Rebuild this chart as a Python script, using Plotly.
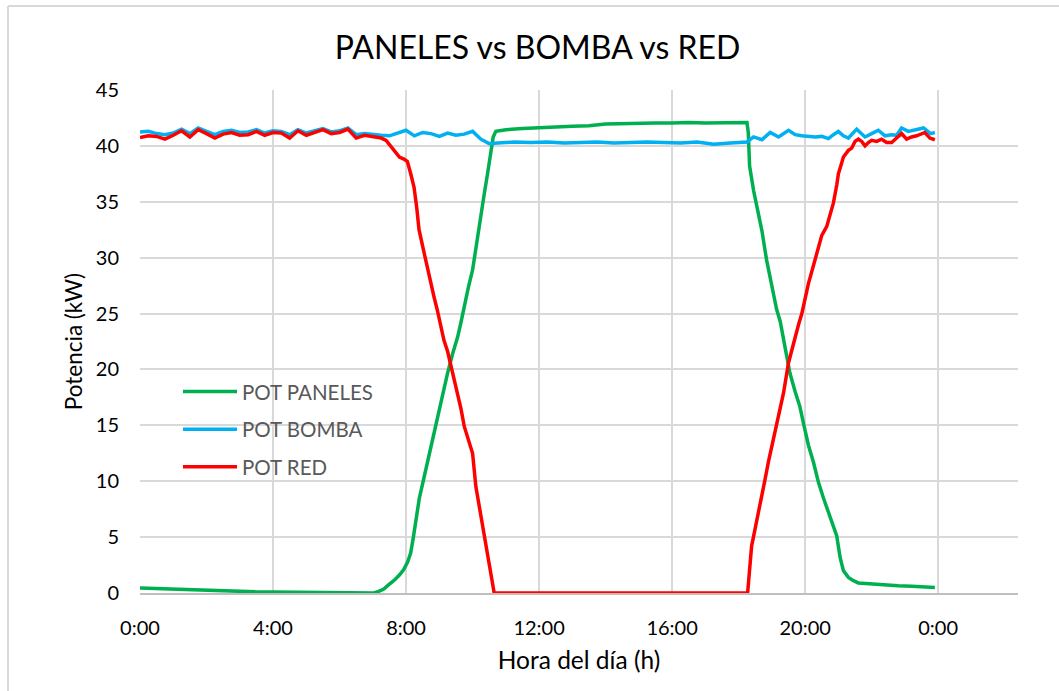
import plotly.graph_objects as go

# ---------------- data (hours of day, kW) ----------------
tick_vals = [0, 4, 8, 12, 16, 20, 24]
tick_text = ["0:00", "4:00", "8:00", "12:00", "16:00", "20:00", "0:00"]

t_paneles = [0, 0.5, 1.0, 1.5, 2.0, 2.5, 3.0, 3.5, 4.0, 4.5, 5.0, 5.5, 6.0, 6.5,
             6.85, 7.03, 7.18, 7.33, 7.48, 7.63, 7.8, 7.93, 8.05, 8.14,
             8.22, 8.29, 8.4, 8.53, 8.68, 8.83, 9.0, 9.12, 9.25, 9.4,
             9.55, 9.65, 9.74, 9.87, 10.0, 10.1, 10.22, 10.34, 10.45, 10.55,
             10.62, 10.7, 10.85, 11.0, 11.5, 12.0, 12.5, 13.0, 13.5, 14.0,
             14.5, 15.0, 15.5, 16.0, 16.5, 17.0, 17.5, 18.0, 18.25, 18.29,
             18.33, 18.45, 18.59, 18.7, 18.84, 19.0, 19.14, 19.25, 19.39, 19.54,
             19.7, 19.84, 19.97, 20.1, 20.25, 20.4, 20.55, 20.7, 20.83, 20.95,
             21.05, 21.15, 21.3, 21.45, 21.6, 22.0, 22.4, 22.8, 23.2, 23.6,
             23.9]
pot_paneles = [0.45, 0.4, 0.35, 0.3, 0.2, 0.15, 0.12, 0.1, 0.08, 0.07, 0.06, 0.05, 0.05, 0.06,
               0.05, 0.0, 0.15, 0.35, 0.75, 1.1, 1.6, 2.1, 2.8, 3.6,
               5.0, 6.6, 8.5, 10.2, 12.2, 14.0, 16.2, 18.0, 19.7, 21.4,
               22.9, 24.2, 25.6, 27.3, 28.9, 31.0, 33.3, 35.5, 37.5, 39.4,
               40.8, 41.3, 41.4, 41.45, 41.55, 41.65, 41.7, 41.75, 41.8, 41.95,
               42.0, 42.0, 42.05, 42.05, 42.1, 42.05, 42.1, 42.1, 42.1, 41.2,
               38.2, 36.0, 34.0, 32.4, 29.8, 27.6, 25.4, 24.3, 22.1, 19.7,
               18.0, 16.7, 14.9, 13.2, 11.7, 9.9, 8.5, 7.2, 6.2, 5.1,
               3.2, 2.0, 1.4, 1.1, 0.9, 0.8, 0.7, 0.65, 0.6, 0.55,
               0.5]

t_bomba = [0, 0.25, 0.5, 0.75, 1.0, 1.25, 1.5, 1.75, 2.0, 2.25, 2.5, 2.75, 3.0, 3.25, 3.5,
           3.75, 4.0, 4.25, 4.5, 4.75, 5.0, 5.25, 5.5, 5.75, 6.0, 6.25, 6.5, 6.75, 7.0, 7.25,
           7.5, 7.75, 8.0, 8.25, 8.5, 8.75, 9.0, 9.25, 9.5, 9.75, 10.0, 10.25, 10.5,
           10.75, 11.25, 11.75, 12.25, 12.75, 13.25, 13.75, 14.25, 14.75, 15.25, 15.75,
           16.25, 16.75, 17.25, 17.75, 18.0,
           18.25, 18.45, 18.7, 18.95, 19.2, 19.5, 19.7, 19.9, 20.1, 20.3, 20.5, 20.7,
           20.85, 21.0, 21.15, 21.3, 21.55, 21.8, 22.0, 22.2, 22.4, 22.6, 22.75, 22.9,
           23.1, 23.35, 23.56, 23.77, 23.9]
pot_bomba = [41.25, 41.3, 41.1, 41.0, 41.15, 41.5, 41.1, 41.6, 41.3, 41.0, 41.3, 41.4, 41.2, 41.25, 41.45,
             41.15, 41.35, 41.3, 41.0, 41.45, 41.15, 41.35, 41.55, 41.25, 41.35, 41.6, 41.0, 41.1, 41.0, 40.95,
             40.9, 41.15, 41.4, 40.9, 41.2, 41.1, 40.85, 41.15, 40.95, 41.05, 41.3, 40.6, 40.2,
             40.25, 40.35, 40.3, 40.35, 40.25, 40.3, 40.35, 40.25, 40.3, 40.35, 40.3,
             40.25, 40.35, 40.15, 40.25, 40.3,
             40.35, 40.8, 40.55, 41.2, 40.8, 41.4, 41.0, 40.9, 40.85, 40.8, 40.85, 40.65,
             41.0, 41.3, 40.9, 40.7, 41.5, 40.8, 41.1, 41.4, 40.9, 41.0, 40.95, 41.6,
             41.3, 41.5, 41.6, 41.1, 41.2]

t_red = [0, 0.25, 0.5, 0.75, 1.0, 1.25, 1.5, 1.75, 2.0, 2.25, 2.5, 2.75, 3.0, 3.25, 3.5,
         3.75, 4.0, 4.25, 4.5, 4.75, 5.0, 5.25, 5.5, 5.75, 6.0, 6.25, 6.5, 6.75, 7.0, 7.25,
         7.4, 7.5, 7.63, 7.8, 7.95, 8.04, 8.14, 8.24, 8.32, 8.39, 8.5, 8.59, 8.67, 8.74,
         8.84, 8.94, 9.04, 9.14, 9.25, 9.35, 9.45, 9.55, 9.65, 9.75, 9.88, 10.0, 10.1,
         10.2, 10.3, 10.4, 10.5, 10.58, 10.65, 14.0, 18.27,
         18.39, 18.48, 18.59, 18.7, 18.79, 18.9, 19.0, 19.1, 19.2, 19.35, 19.5, 19.6,
         19.7, 19.8, 19.9, 20.0, 20.1, 20.25, 20.4, 20.5, 20.65, 20.75, 20.85, 20.95,
         21.0, 21.08, 21.15, 21.3, 21.4, 21.5, 21.6, 21.7, 21.8, 21.9, 22.0, 22.15,
         22.3, 22.45, 22.6, 22.75, 22.9, 23.05, 23.2, 23.35, 23.5, 23.6, 23.75, 23.9]
pot_red = [40.75, 40.9, 40.85, 40.6, 40.95, 41.35, 40.8, 41.45, 41.1, 40.7, 41.05, 41.2, 40.95, 41.0, 41.3,
           40.95, 41.2, 41.15, 40.7, 41.35, 40.95, 41.2, 41.45, 41.1, 41.2, 41.5, 40.7, 40.95, 40.8, 40.7,
           40.5, 40.1, 39.6, 39.0, 38.8, 38.6, 37.5, 36.3, 34.5, 32.5, 31.0, 29.8, 28.5, 27.7,
           26.5, 25.3, 24.0, 22.6, 21.6, 20.4, 19.0, 17.9, 16.5, 14.9, 13.6, 12.5, 9.5,
           7.8, 6.0, 4.3, 2.7, 1.2, 0.0, 0.0, 0.0,
           4.2, 5.5, 6.9, 8.6, 10.1, 11.8, 13.1, 14.5, 15.8, 17.9, 20.6, 21.8,
           22.9, 24.0, 25.0, 26.3, 27.7, 29.3, 31.0, 32.0, 32.8, 33.9, 34.9, 36.5,
           37.5, 38.3, 39.0, 39.6, 39.8, 40.4, 40.6, 40.4, 40.0, 40.3, 40.5, 40.4,
           40.6, 40.3, 40.3, 40.7, 41.1, 40.6, 40.8, 40.9, 41.1, 41.2, 40.7, 40.55]

# ---------------- figure ----------------
FONT = "Lato"
fig = go.Figure()
fig.add_trace(go.Scatter(x=t_paneles, y=pot_paneles, mode="lines", name="POT PANELES",
                         legendgroup="a", line=dict(color="#00B050", width=3.5)))
fig.add_trace(go.Scatter(x=t_bomba, y=pot_bomba, mode="lines", name="POT BOMBA",
                         legendgroup="b", line=dict(color="#00B0F0", width=3.5)))
fig.add_trace(go.Scatter(x=t_red, y=pot_red, mode="lines", name="POT RED",
                         legendgroup="c", line=dict(color="#FF0000", width=3.5)))

W, H = 1059, 691
L, R, T, B = 140, 41, 90, 97.5
pw, ph = W - L - R, H - T - B

def px(x):
    return (x - L) / pw

def py(y):
    return (H - B - y) / ph

fig.update_layout(
    width=W, height=H,
    margin=dict(l=L, r=R, t=T, b=B, pad=0),
    paper_bgcolor="white", plot_bgcolor="white",
    font=dict(family=FONT, color="#000000"),
    title=dict(text="PANELES vs BOMBA vs RED", font=dict(family=FONT, size=32, color="#000000"),
               x=537.5 / W, xref="container", xanchor="center",
               y=1 - 48 / H, yref="container", yanchor="middle"),
    xaxis=dict(range=[0, 26.4], tickvals=tick_vals, ticktext=tick_text,
               showgrid=True, gridcolor="#d9d9d9", gridwidth=1.5, zeroline=False,
               showline=True, linecolor="#bfbfbf", linewidth=1.5,
               ticks="", ticklabelstandoff=16,
               tickfont=dict(family=FONT, size=20, color="#000000"),
               title=dict(text="Hora del día (h)", font=dict(family=FONT, size=24.5, color="#000000"),
                          standoff=14)),
    yaxis=dict(range=[0, 45], dtick=5, tick0=0,
               showgrid=True, gridcolor="#d9d9d9", gridwidth=1.5, zeroline=False,
               showline=False, ticks="", ticklabelstandoff=20,
               tickfont=dict(family=FONT, size=20, color="#000000"),
               title=dict(text="Potencia (kW)", font=dict(family=FONT, size=22.5, color="#000000"),
                          standoff=6)),
    legend=dict(x=px(178), y=py(372), xanchor="left", yanchor="top",
                bgcolor="rgba(0,0,0,0)", borderwidth=0,
                font=dict(family=FONT, size=20.5, color="#595959"),
                itemwidth=54, tracegroupgap=8),
    shapes=[
        dict(type="line", xref="paper", yref="paper", x0=px(8), x1=px(8), y0=py(H + 5), y1=py(6),
             line=dict(color="#d9d9d9", width=2)),
        dict(type="line", xref="paper", yref="paper", x0=px(8), x1=px(W + 5), y0=py(6), y1=py(6),
             line=dict(color="#d9d9d9", width=2)),
    ],
)

fig.write_html("out.html")
